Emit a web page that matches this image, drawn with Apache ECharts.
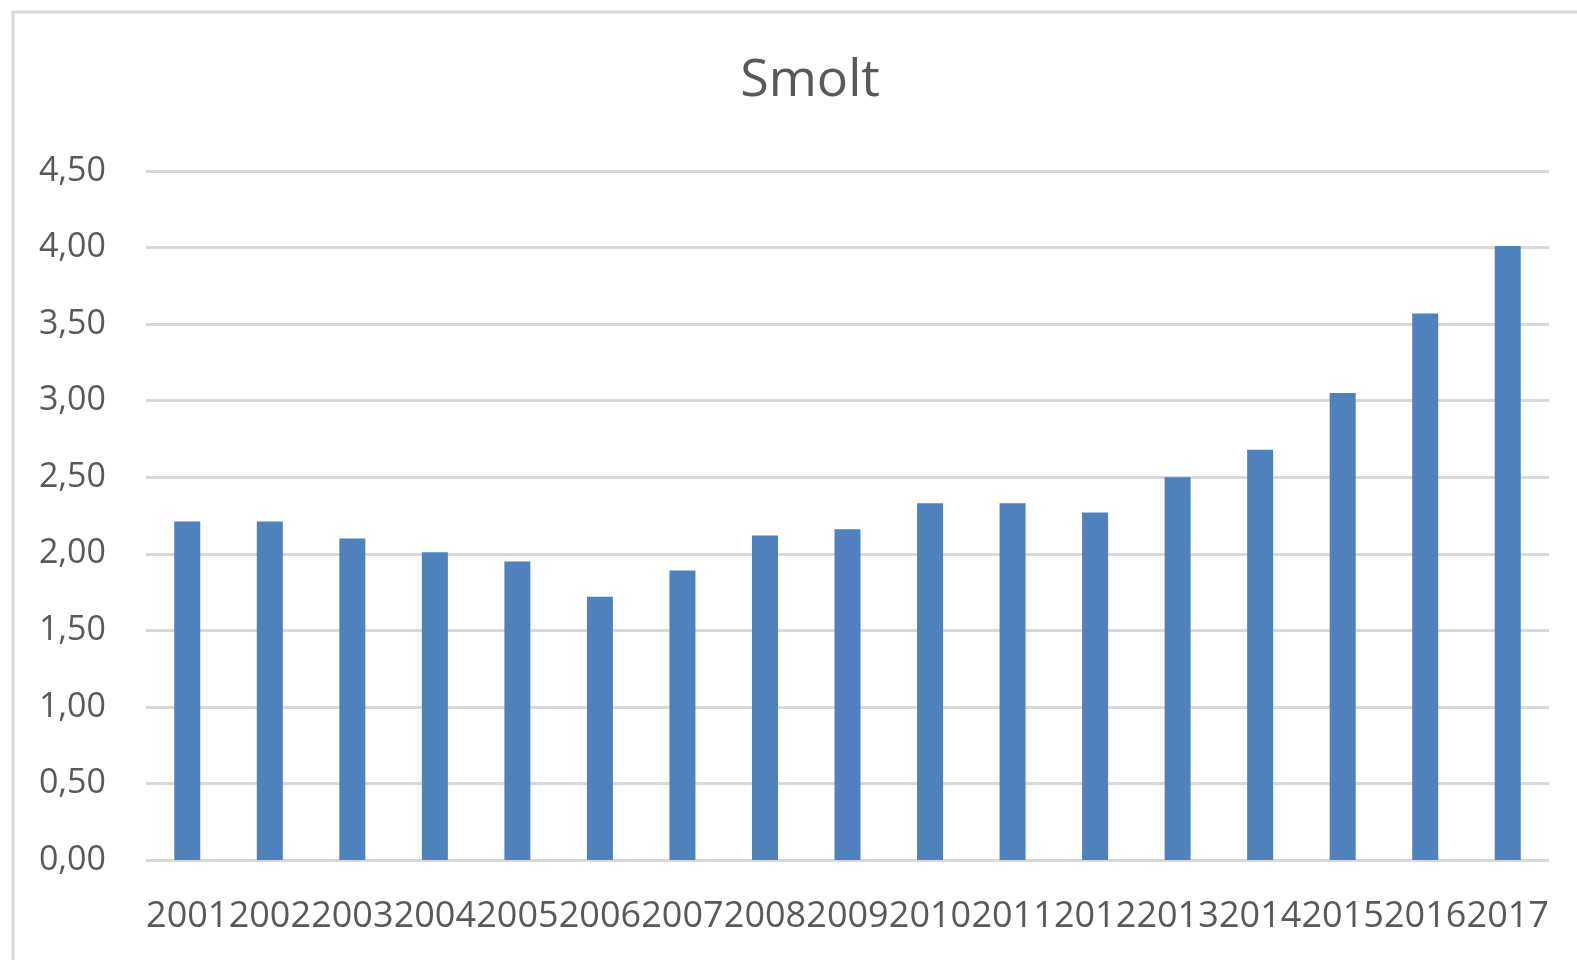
<!DOCTYPE html>
<html>
<head>
<meta charset="utf-8">
<script src="https://cdn.jsdelivr.net/npm/echarts@6/dist/echarts.min.js"></script>
<style>
  html, body { margin: 0; padding: 0; background: #fff; }
  #chart { width: 1577px; height: 960px; }
</style>
</head>
<body>
<div id="chart"></div>
<script>
var years = ['2001', '2002', '2003', '2004', '2005', '2006', '2007', '2008', '2009',
    '2010', '2011', '2012', '2013', '2014', '2015', '2016', '2017'];
var smolt = [2.21, 2.21, 2.10, 2.01, 1.95, 1.72, 1.89, 2.12, 2.16,
    2.33, 2.33, 2.27, 2.50, 2.68, 3.05, 3.57, 4.01];

var chart = echarts.init(document.getElementById('chart'));

var font = '"Open Sans", sans-serif';

var option = {
    animation: false,
    title: {
        text: 'Smolt',
        left: 805,
        top: 50,
        textAlign: 'center',
        textStyle: {
            fontFamily: font,
            fontSize: 52,
            fontWeight: 'normal',
            color: '#595959'
        }
    },
    graphic: [ {
        type: 'rect',
        shape: { x: 13, y: 12, width: 1700, height: 1100 },
        style: { fill: 'none', stroke: '#d9d9d9', lineWidth: 3 },
        silent: true
    } ],
    grid: {
        left: 146,
        right: 28,
        top: 171,
        bottom: 100
    },
    xAxis: {
        type: 'category',
        data: years,
        axisLine: { show: false },
        axisTick: { show: false },
        axisLabel: {
            interval: 0,
            margin: 39,
            fontFamily: font,
            fontSize: 36,
            color: '#595959',
            hideOverlap: false
        }
    },
    yAxis: {
        type: 'value',
        min: 0,
        max: 4.5,
        interval: 0.5,
        axisLine: { show: false },
        axisTick: { show: false },
        axisLabel: {
            margin: 40,
            padding: [16, 0, 0, 0],
            fontFamily: font,
            fontSize: 34,
            color: '#595959',
            formatter: function (v) {
                return v.toFixed(2).replace('.', ',');
            }
        },
        splitLine: {
            lineStyle: { color: '#d9d9d9', width: 3 }
        }
    },
    series: [ {
        type: 'bar',
        data: smolt,
        barWidth: 26,
        itemStyle: { color: '#4f81bd' }
    } ]
};

chart.setOption(option);

window.onresize = chart.resize;
</script>
</body>
</html>
